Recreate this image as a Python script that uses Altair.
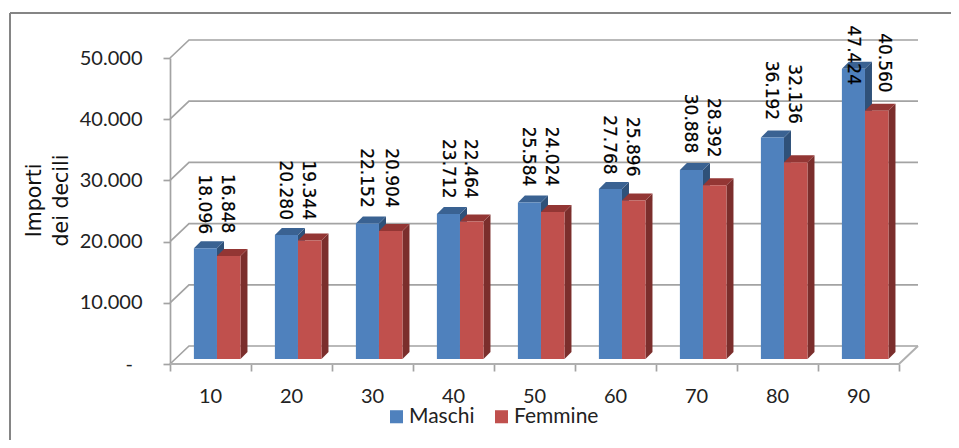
import altair as alt
import pandas as pd

# ---- values
deciles = [10, 20, 30, 40, 50, 60, 70, 80, 90]
maschi = [18096, 20280, 22152, 23712, 25584, 27768, 30888, 36192, 47424]
femmine = [16848, 19344, 20904, 22464, 24024, 25896, 28392, 32136, 40560]
# where each printed label sits (the source placed them by hand)
maschi_label_y = [26100, 28400, 30400, 31900, 33900, 35800, 39300, 44700, 50450]
femmine_label_y = [26200, 28400, 30400, 31900, 33900, 35500, 38600, 44100, 49200]
maschi_label_dx = [0, 0, 0, 0.01, 0, 0, 0, 0, 0.015]
femmine_label_dx = [0, 0, 0.025, 0, 0, 0, 0, 0, 0.11]
grid_values = [0, 10000, 20000, 30000, 40000, 50000]

# ---- layout constants in axis units
DX, DY = 19 / 81, 18 / 306 * 50000      # depth of the floor
BX, BY = 7 / 81, 7 / 306 * 50000        # depth of a bar
BASE = 5 / 306 * 50000
LEFT = 0.295; MID = 0.58; RIGHT = 0.87

SERIES = ["Maschi", "Femmine"]
GRID = "#a3a3a3"
XS = alt.Scale(domain=[0, 9], range=[162, 891])
YS = alt.Scale(domain=[0, 50000], range=[356, 50])
XAX = alt.Axis(values=list(range(10)), labels=False, title=None, domain=False, grid=False, offset=-76,
               ticks=True, tickColor=GRID, tickWidth=1.7, tickSize=7)
YAX = alt.Axis(
    values=grid_values, title=["Importi", "dei decili"], titleFont="DejaVu Sans", offset=-162,
    titleFontSize=20.5, titleFontWeight="normal", titleColor="#111111",
    titleX=-126, titleY=192, titleAlign="center", titleLineHeight=27,
    labelFont="Lato", labelFontSize=20, labelColor="#222222", labelPadding=21,
    labelExpr="datum.value === 0 ? '' : format(datum.value / 1000, '.0f') + '.000'",
    grid=False, domain=True, domainColor=GRID, domainWidth=1.7,
    ticks=True, tickColor=GRID, tickWidth=1.7, tickSize=7)
x = lambda f: alt.X(f, type="quantitative", scale=XS, axis=XAX)
y = lambda f: alt.Y(f, type="quantitative", scale=YS, axis=YAX)

front, side, top, labels = [], [], [], []
for s, vals, lys, ldx, a, b in [("Maschi", maschi, maschi_label_y, maschi_label_dx, LEFT, MID),
                                ("Femmine", femmine, femmine_label_y, femmine_label_dx, MID, RIGHT)]:
    for i, (d, v, ly, dx) in enumerate(zip(deciles, vals, lys, ldx)):
        k = f"{s}{d}"
        front.append(dict(s=s, x=i + a, x2=i + b, y=v + BASE, y2=BASE))
        side += [dict(k=k, s=s, x=i + b, y=v + BASE, y2=BASE),
                 dict(k=k, s=s, x=i + b + BX, y=v + BASE + BY, y2=BASE + BY)]
        top += [dict(k=k, s=s, y=v + BASE, x=i + a, x2=i + b),
                dict(k=k, s=s, y=v + BASE + BY, x=i + a + BX, x2=i + b + BX)]
        labels.append(dict(x=i + (a + b) / 2 - 0.02 + dx, y=ly, t=f"{v:,}".replace(",", ".")))

grid_rows = []
for g in grid_values:
    grid_rows += [dict(g=g, o=0, x=0, y=g), dict(g=g, o=1, x=DX, y=g + DY),
                  dict(g=g, o=2, x=9 + DX, y=g + DY)]
floor = [dict(o=0, x=0, y=0), dict(o=1, x=9, y=0), dict(o=2, x=9 + DX, y=DY)]

grid = alt.Chart(pd.DataFrame(grid_rows)).mark_line(color=GRID, strokeWidth=1.7).encode(
    x=x("x"), y=y("y"), detail="g:N", order="o:Q")
floor_line = alt.Chart(pd.DataFrame(floor)).mark_line(color="#b0b0b0", strokeWidth=2).encode(
    x=x("x"), y=y("y"), order="o:Q")
cat_labels = alt.Chart(pd.DataFrame({"x": [i + 0.5 for i in range(9)], "t": [str(d) for d in deciles]})).mark_text(
    font="Lato", fontSize=20, color="#222222").encode(x=x("x"), y=alt.value(389), text="t:N")
zero_label = alt.Chart(pd.DataFrame({"t": ["-"]})).mark_text(
    font="Lato", fontSize=20, color="#222222", align="right").encode(
    x=alt.value(125), y=alt.value(357), text="t:N")

side_m = alt.Chart(pd.DataFrame(side)).mark_area(orient="vertical", opacity=1).encode(
    x=x("x"), y=y("y"), y2="y2:Q", detail="k:N",
    fill=alt.Fill("s:N", legend=None, scale=alt.Scale(domain=SERIES, range=["#2f5179", "#7b2e2c"])))
top_m = alt.Chart(pd.DataFrame(top)).mark_area(orient="horizontal", opacity=1).encode(
    y=y("y"), x=x("x"), x2="x2:Q", detail="k:N",
    fill=alt.Fill("s:N", legend=None, scale=alt.Scale(domain=SERIES, range=["#3a6292", "#933634"])))
front_m = alt.Chart(pd.DataFrame(front)).mark_rect(stroke=None).encode(
    x=x("x"), x2="x2:Q", y=y("y"), y2="y2:Q",
    color=alt.Color("s:N", scale=alt.Scale(domain=SERIES, range=["#4f81bd", "#c0504d"]),
                    legend=alt.Legend(
                        title=None, orient="none", legendX=378, legendY=398, direction="horizontal",
                        columns=2, columnPadding=16, symbolType="square", symbolSize=170, symbolOpacity=1,
                        symbolStrokeWidth=0, labelFont="Lato", labelFontSize=21, labelColor="#222222",
                        labelOffset=2)))
value_labels = alt.Chart(pd.DataFrame(labels)).mark_text(
    font="DejaVu Sans", fontSize=17, angle=90, color="#000000", stroke="#000000", strokeWidth=0.25
).encode(x=x("x"), y=y("y"), text="t:N")

frame_l = alt.Chart(pd.DataFrame({"a": [0]})).mark_rule(color="#858585", strokeWidth=2).encode(
    x=alt.value(2), y=alt.value(5), y2=alt.value(440))
frame_t = alt.Chart(pd.DataFrame({"a": [0]})).mark_rule(color="#858585", strokeWidth=2).encode(
    x=alt.value(2), x2=alt.value(951), y=alt.value(5))

chart = alt.layer(grid, floor_line, side_m, top_m, front_m, value_labels, cat_labels, zero_label, frame_l, frame_t).resolve_scale(
    fill="independent"
).properties(
    width=943, height=432, padding=0, autosize=alt.AutoSizeParams(type="none"),
    background="white"
).configure_view(stroke=None)

chart.save("out.html", embed_options={"renderer": "svg", "actions": False})
